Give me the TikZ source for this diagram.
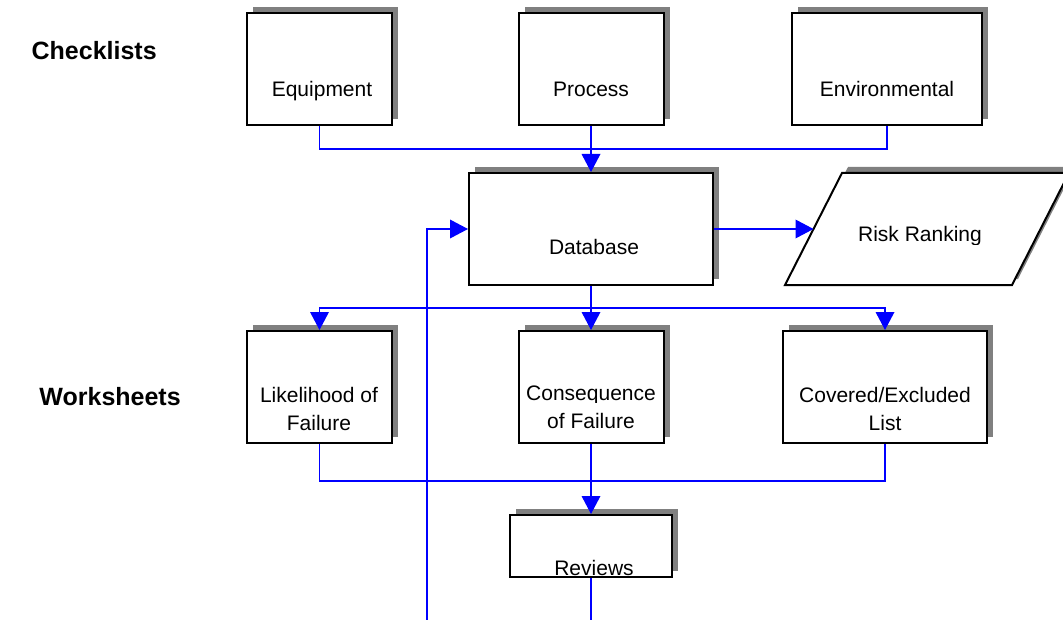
\documentclass[tikz,border=0pt]{standalone}
\usepackage{fontspec}
\setmainfont{Liberation Sans}
\usetikzlibrary{arrows.meta,shadows}
\tikzset{
	shd/.style={drop shadow={shadow xshift=4.5pt,shadow yshift=4.5pt,fill=gray,opacity=1}},
	box/.style 2 args={draw=black,line width=1.5pt,fill=white,minimum width=#1*0.75pt,minimum height=#2*0.75pt,inner sep=0pt,shd},
	txt/.style={font=\fontsize{15.75}{21}\selectfont,inner sep=0pt,align=center},
	lbl/.style={font=\fontsize{18.75}{22}\selectfont\bfseries,inner sep=0pt},
	flow/.style={draw=blue,line width=1pt},
	tip/.style={-{Triangle[length=13.5pt,width=14pt]}}
}
\begin{document}
\begin{tikzpicture}[x=0.75pt,y=-0.75pt]
	\useasboundingbox (0,0) rectangle (1063,620);
	% labels
	\node[lbl,anchor=base east] (chk) at (157,60) {Checklists};
	\node[lbl,anchor=base east] (wks) at (181,405) {Worksheets};
	% checklists
	\node[box={145}{112}] (equip) at (319.5,69) {};
	\node[box={145}{112}] (proc) at (591,69) {};
	\node[box={190}{112}] (env) at (887,69) {};
	\node[txt,anchor=base] (equip-l) at (322,97) {Equipment};
	\node[txt,anchor=base] (proc-l) at (591,97) {Process};
	\node[txt,anchor=base] (env-l) at (887,97) {Environmental};
	% database and ranking
	\node[box={244}{112}] (db) at (591,229) {};
	\node[txt,anchor=base] (db-l) at (594,255) {Database};
	\draw[line width=1.5pt,fill=white,shd] (785,285) -- (1012,285) -- (1069,173) -- (842,173) -- cycle;
	\coordinate (risk-w) at (813.5,229);
	\begin{scope}
		\clip (790,180) rectangle (1063,245);
		\node[txt,anchor=base] (risk-l) at (920,242) {Risk Ranking};
	\end{scope}
	% worksheets
	\node[box={145}{112}] (lik) at (319.5,387) {};
	\node[box={145}{112}] (cons) at (591,387) {};
	\node[box={204}{112}] (cov) at (885,387) {};
	\node[txt] (lik-l) at (319,409) {Likelihood of\\Failure};
	\begin{scope}
		\clip (520,380) rectangle (662,402);
		\node[txt,anchor=base] (cons-l1) at (591,400) {Consequence};
	\end{scope}
	\node[txt,anchor=base] (cons-l2) at (591,428) {of Failure};
	\node[txt] (cov-l) at (885,409) {Covered/Excluded\\List};
	\node[box={162}{62}] (rev) at (591,546) {};
	\node[txt,anchor=base] (rev-l) at (594,575) {Reviews};
	% connectors
	\coordinate (cbus) at (591,149);
	\coordinate (wbus) at (591,308);
	\coordinate (rbus) at (591,481);
	\coordinate (fb) at (427,622);
	\coordinate (out) at (591,622);
	\draw[flow] (equip.south) |- (cbus) -| (env.south);
	\draw[flow,tip] (proc.south) -- (db.north);
	\draw[flow,tip] (db.east) -- (risk-w);
	\draw[flow] (db.south) -- (wbus);
	\draw[flow,{Triangle[length=13.5pt,width=14pt]}-{Triangle[length=13.5pt,width=14pt]}] (lik.north) |- (wbus) -| (cov.north);
	\draw[flow,tip] (wbus) -- (cons.north);
	\draw[flow] (lik.south) |- (rbus) -| (cov.south);
	\draw[flow,tip] (cons.south) -- (rev.north);
	\draw[flow,tip] (fb) |- (db.west);
	\draw[flow] (rev.south) -- (out);
\end{tikzpicture}
\end{document}
